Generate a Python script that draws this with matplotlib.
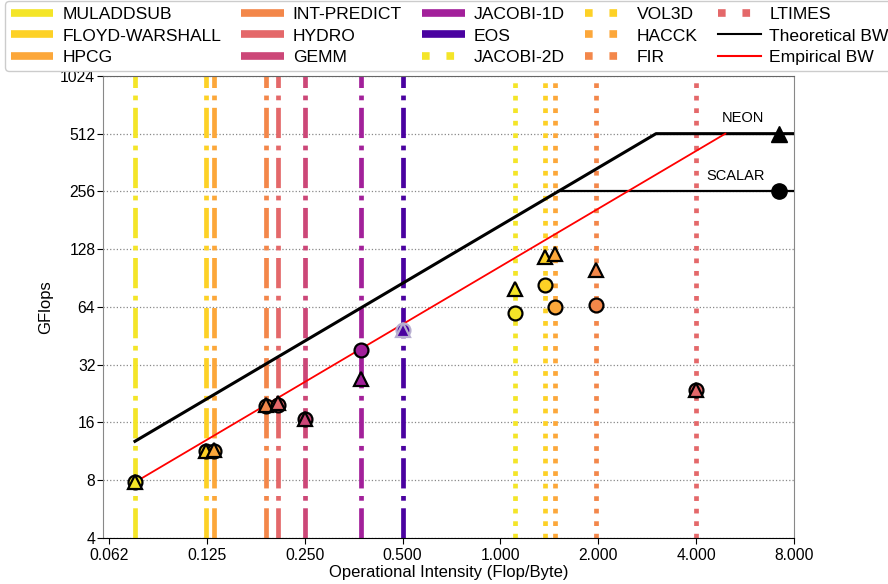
#!/usr/bin/env python
import numpy as np
import matplotlib
matplotlib.use('Agg')
import matplotlib.pyplot as plt
from matplotlib.lines import Line2D
from matplotlib.ticker import FixedLocator, NullLocator

plt.rcParams['font.family'] = ['Liberation Sans', 'DejaVu Sans']

# kernels: operational intensity, measured GFlops for scalar (circle) and NEON (triangle)
kernels = ['MULADDSUB', 'FLOYD-WARSHALL', 'HPCG', 'INT-PREDICT', 'HYDRO', 'GEMM',
           'JACOBI-1D', 'EOS', 'JACOBI-2D', 'VOL3D', 'HACCK', 'FIR', 'LTIMES']
intensity = [0.075, 0.124, 0.131, 0.19, 0.206, 0.25, 0.371, 0.5, 1.11, 1.37, 1.476, 1.97, 4.0]
gflops_scalar = [7.8, 11.3, 11.4, 19.5, 19.8, 16.7, 38.0, 48.3, 59.5, 83.6, 63.6, 65.7, 23.5]
gflops_neon = [7.8, 11.4, 11.5, 19.6, 20.2, 16.7, 27.0, 48.3, 79.4, 117.0, 121.0, 100.0, 23.5]
colors = ['#f4e528', '#fdd126', '#fca73a', '#f3874a', '#e4686a', '#cc4778',
          '#a2209a', '#4a02a0', '#f4e528', '#fdd126', '#fca73a', '#f3874a', '#e4686a']
styles = ['-.'] * 8 + [':'] * 5

# roofline
peak_neon = 512.0
peak_scalar = 256.0
bw_theory = 170.0
bw_empirical = 104.0
ai_start = 0.075
ai_end = 8.0
peak_ai = 7.2

fig = plt.figure(figsize=(8.88, 5.84), dpi=100)
ax = fig.add_axes([0.116, 0.079, 0.778, 0.791])
ax.set_xscale('log', base=2)
ax.set_yscale('log', base=2)

handles = []
for name, x, c, ls in zip(kernels, intensity, colors, styles):
    ax.axvline(x, color=c, linestyle=ls, linewidth=3.4, zorder=1)
    # legend handles: wider dots than the plot lines
    hls = (0, (1, 2.2)) if ls == ':' else ls
    handles.append(Line2D([], [], color=c, linestyle=hls, linewidth=5.5, label=name))

for i in range(len(kernels)):
    ec = '#b7aed0' if kernels[i] == 'EOS' else 'k'
    ax.plot(intensity[i], gflops_scalar[i], 'o', ms=10, mfc=colors[i], mec=ec, mew=1.6, zorder=4)
    ax.plot(intensity[i], gflops_neon[i], '^', ms=10, mfc=colors[i], mec=ec, mew=1.6, zorder=5)

# theoretical roof
knee_t = peak_neon / bw_theory
ax.plot([ai_start, knee_t, ai_end], [ai_start * bw_theory, peak_neon, peak_neon],
        'k-', linewidth=2.2, zorder=3)
ax.plot([peak_scalar / bw_theory, ai_end], [peak_scalar, peak_scalar], 'k-', linewidth=1.6, zorder=3)
# empirical roof
knee_e = peak_neon / bw_empirical
ax.plot([ai_start, knee_e], [ai_start * bw_empirical, peak_neon], 'r-', linewidth=1.3, zorder=3)

ax.plot(peak_ai, peak_neon, '^', color='k', ms=11, zorder=6, clip_on=False)
ax.plot(peak_ai, peak_scalar, 'o', color='k', ms=11, zorder=6, clip_on=False)
ax.text(6.5, peak_neon * 1.11, 'NEON', ha='right', va='bottom', fontsize=10.5)
ax.text(6.5, peak_scalar * 1.11, 'SCALAR', ha='right', va='bottom', fontsize=10.5)

handles.append(Line2D([], [], color='k', linewidth=1.5, label='Theoretical BW'))
handles.append(Line2D([], [], color='r', linewidth=1.5, label='Empirical BW'))

xt = [2.0 ** k for k in range(-4, 4)]
yt = [2 ** k for k in range(2, 11)]
ax.xaxis.set_major_locator(FixedLocator(xt))
ax.xaxis.set_minor_locator(NullLocator())
ax.set_xticklabels(['%.3f' % v for v in xt])
ax.yaxis.set_major_locator(FixedLocator(yt))
ax.yaxis.set_minor_locator(NullLocator())
ax.set_yticklabels([str(v) for v in yt])
ax.set_xlim(0.0598, 8.0)
ax.set_ylim(4, 1024)
ax.tick_params(labelsize=11.3, length=4)
ax.tick_params(axis='y', pad=1.5)
ax.yaxis.grid(True, linestyle=':', color='#888888', linewidth=0.9)
ax.set_axisbelow(True)
ax.spines['left'].set_color('#888888')
ax.spines['right'].set_color('#888888')
ax.spines['top'].set_color('#666666')
ax.set_xlabel('Operational Intensity (Flop/Byte)', fontsize=12, labelpad=1)
ax.set_ylabel('GFlops', fontsize=12, labelpad=5)

leg = fig.legend(handles=handles, ncol=5, loc='upper left', bbox_to_anchor=(0.006, 0.998),
                 fontsize=12.6, handlelength=2.45, handletextpad=0.5, columnspacing=1.15,
                 labelspacing=0.38, borderpad=0.3, borderaxespad=0.0, framealpha=1.0,
                 edgecolor='#cccccc')

plt.savefig('out.png', dpi=100)
